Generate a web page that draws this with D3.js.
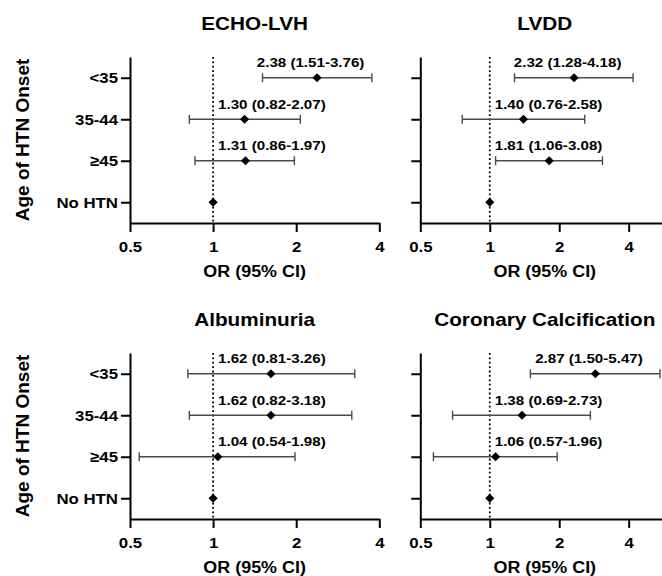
<!DOCTYPE html>
<html>
<head>
<meta charset="utf-8">
<script src="https://cdn.jsdelivr.net/npm/d3@7"></script>
<style>
  html, body { margin: 0; padding: 0; background: #fff; }
  svg { display: block; }
  text { font-family: "Liberation Sans", Arial, Helvetica, sans-serif; fill: #000; }
</style>
</head>
<body>
<svg id="chart" width="662" height="576"></svg>
<script>
// ---------------- data ----------------
const categories = ["<35", "35-44", "≥45", "No HTN"];
const titles = ["ECHO-LVH", "LVDD", "Albuminuria", "Coronary Calcification"];

const echoOR   = [2.38, 1.30, 1.31, 1.00];
const echoLow  = [1.51, 0.82, 0.86, null];
const echoHigh = [3.76, 2.07, 1.97, null];

const lvddOR   = [2.32, 1.40, 1.81, 1.00];
const lvddLow  = [1.28, 0.76, 1.06, null];
const lvddHigh = [4.18, 2.58, 3.08, null];

const albOR    = [1.62, 1.62, 1.04, 1.00];
const albLow   = [0.81, 0.82, 0.54, null];
const albHigh  = [3.26, 3.18, 1.98, null];

const cacOR    = [2.87, 1.38, 1.06, 1.00];
const cacLow   = [1.50, 0.69, 0.57, null];
const cacHigh  = [5.47, 2.73, 1.96, null];

const xTicks = [0.5, 1, 2, 4];
const xDomainLeft = [0.5, 4];
const xDomainRight = [0.5, 6];
const yTitle = "Age of HTN Onset";
const xTitle = "OR (95% CI)";

// ---------------- layout ----------------
const K = 1.12; // horizontal text stretch
const svg = d3.select("#chart");
svg.append("rect").attr("width", 662).attr("height", 576).attr("fill", "#fff");

function stretch(sel) {
  sel.each(function () {
    const l = this.getComputedTextLength();
    this.setAttribute("textLength", l * K);
    this.setAttribute("lengthAdjust", "spacingAndGlyphs");
  });
}

const cols = [{x0: 130, x1: 379.3, dom: xDomainLeft}, {x0: 420.3, x1: 669.3, dom: xDomainRight}];
const rows = [{y0: 57, y1: 223}, {y0: 353, y1: 519}];

const panels = [
  {title: titles[0], or: echoOR, lo: echoLow, hi: echoHigh, c: 0, r: 0},
  {title: titles[1], or: lvddOR, lo: lvddLow, hi: lvddHigh, c: 1, r: 0},
  {title: titles[2], or: albOR,  lo: albLow,  hi: albHigh,  c: 0, r: 1},
  {title: titles[3], or: cacOR,  lo: cacLow,  hi: cacHigh,  c: 1, r: 1}
];

const fmt = d3.format(".2f");

panels.forEach(p => {
  const col = cols[p.c], row = rows[p.r];
  const x = d3.scaleLog().domain(col.dom).range([col.x0, col.x1]);
  const y = d3.scalePoint().domain(categories).range([row.y0, row.y1]).padding(0.5);
  const g = svg.append("g");

  // title
  g.append("text")
    .attr("x", (col.x0 + col.x1) / 2).attr("y", row.y0 - 27)
    .attr("text-anchor", "middle")
    .style("font-size", "18.5px").style("font-weight", "bold")
    .text(p.title).call(stretch);

  // reference dotted line
  g.append("line")
    .attr("x1", x(1)).attr("x2", x(1))
    .attr("y1", row.y0).attr("y2", row.y1)
    .attr("stroke", "#000").attr("stroke-width", 1.8)
    .attr("stroke-dasharray", "1.8,2.6");

  // x axis
  const xa = g.append("g").attr("transform", `translate(0,${row.y1})`)
    .call(d3.axisBottom(x).tickValues(xTicks).tickFormat(d3.format("")).tickSize(9).tickSizeOuter(0).tickPadding(9));
  xa.select(".domain").attr("stroke-width", 2);
  xa.selectAll(".tick line").attr("stroke-width", 2);
  xa.selectAll(".tick text")
    .style("font-size", "15px").style("font-weight", "bold")
    .attr("font-family", null).call(stretch);

  // y axis
  const ya = g.append("g").attr("transform", `translate(${col.x0},0)`)
    .call(d3.axisLeft(y).tickSize(9).tickSizeOuter(0).tickPadding(3));
  ya.select(".domain").attr("stroke-width", 2);
  ya.selectAll(".tick line").attr("stroke-width", 2);
  if (p.c === 0) {
    ya.selectAll(".tick text")
      .style("font-size", "15px").style("font-weight", "bold").call(stretch);
  } else {
    ya.selectAll(".tick text").remove();
  }

  // x title
  g.append("text")
    .attr("x", (col.x0 + col.x1) / 2).attr("y", row.y1 + 54)
    .attr("text-anchor", "middle")
    .style("font-size", "16px").style("font-weight", "bold")
    .text(xTitle).call(stretch);

  // y title
  if (p.c === 0) {
    g.append("text")
      .attr("transform", `translate(28.5,${(row.y0 + row.y1) / 2 - 0}) rotate(-90)`)
      .attr("text-anchor", "middle")
      .style("font-size", "19px").style("font-weight", "bold")
      .text(yTitle);
  }

  // error bars, points, labels
  categories.forEach((cat, i) => {
    const cy = y(cat);
    if (p.lo[i] != null) {
      g.append("line")
        .attr("x1", x(p.lo[i])).attr("x2", x(p.hi[i]))
        .attr("y1", cy).attr("y2", cy)
        .attr("stroke", "#4a4a4a").attr("stroke-width", 1.4);
      [p.lo[i], p.hi[i]].forEach(v => {
        g.append("line")
          .attr("x1", x(v)).attr("x2", x(v))
          .attr("y1", cy - 4.5).attr("y2", cy + 4.5)
          .attr("stroke", "#4a4a4a").attr("stroke-width", 1.4);
      });
      const t = g.append("text")
        .attr("y", cy - 10.5)
        .attr("text-anchor", "start")
        .style("font-size", "13.5px").style("font-weight", "bold")
        .text(`${fmt(p.or[i])} (${fmt(p.lo[i])}-${fmt(p.hi[i])})`);
      t.call(stretch);
      const w = t.node().getComputedTextLength() * K;
      const left = Math.max(x(p.or[i]) - w / 2, x(1) + 5);
      t.attr("x", left);
    }
    g.append("path")
      .attr("d", d3.symbol(d3.symbolSquare, 42)())
      .attr("transform", `translate(${x(p.or[i])},${cy}) rotate(45)`)
      .attr("fill", "#000");
  });
});
</script>
</body>
</html>
